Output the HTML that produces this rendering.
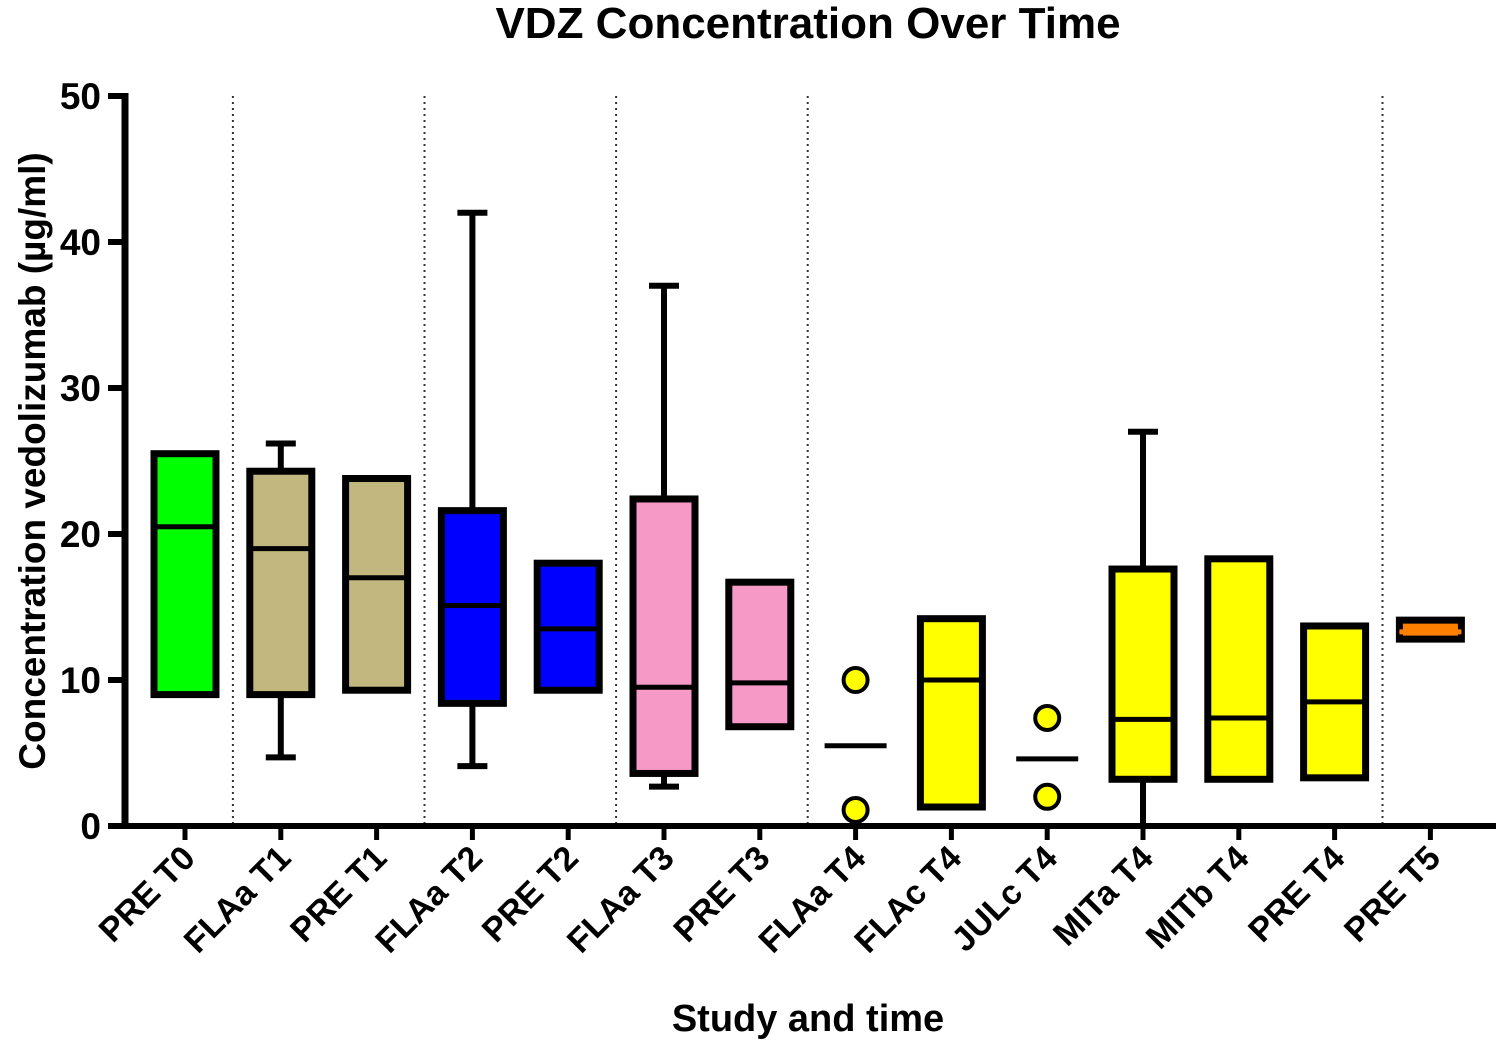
<!DOCTYPE html>
<html><head><meta charset="utf-8"><style>
body{margin:0;background:#fff}
svg{display:block;font-family:"Liberation Sans",Arial,sans-serif;font-weight:bold}
</style></head><body>
<svg id="chart" width="1502" height="1044">
<text x="808" y="38" text-anchor="middle" font-size="44">VDZ Concentration Over Time</text>
<text x="808" y="1031" text-anchor="middle" font-size="38">Study and time</text>
<text transform="translate(45,461) rotate(-90)" text-anchor="middle" font-size="37">Concentration vedolizumab (µg/ml)</text>
<g id="plot"></g>
</svg>
<script>
const categories=["PRE T0","FLAa T1","PRE T1","FLAa T2","PRE T2","FLAa T3","PRE T3","FLAa T4","FLAc T4","JULc T4","MITa T4","MITb T4","PRE T4","PRE T5"];
const q1s=[9,9,9.3,8.4,9.3,3.6,6.8,null,1.3,null,3.2,3.2,3.3,12.8];
const q3s=[25.5,24.3,23.8,21.6,18,22.4,16.7,null,14.2,null,17.6,18.3,13.7,14.1];
const medians=[20.5,19,17,15.1,13.5,9.5,9.8,5.5,10,4.6,7.3,7.4,8.5,13.3];
const mins=[null,4.7,null,4.1,null,2.7,null,null,null,null,0,null,null,null];
const maxs=[null,26.2,null,42,null,37,null,null,null,null,27,null,null,null];
const points=[[],[],[],[],[],[],[],[10,1.1],[],[7.4,2],[],[],[],[]];
const fills=["#00ff00","#c2b77f","#c2b77f","#0000ff","#0000ff","#f799c6","#f799c6","#ffff00","#ffff00","#ffff00","#ffff00","#ffff00","#ffff00","#ff8000"];
const yTicks=[0,10,20,30,40,50];
const separators=[0.5,2.5,4.5,6.5,12.5];
const X0=185,STEP=95.8,Y0=826,PX=14.6,L=125,R=1496;
const xs=i=>X0+i*STEP, ys=v=>Y0-v*PX;
const g=document.getElementById('plot');const NS="http://www.w3.org/2000/svg";
function mk(t,a,name){const e=document.createElementNS(NS,t);for(const k in a)e.setAttribute(k,a[k]);


g.appendChild(e);return e;}
separators.forEach(s=>mk('line',{x1:xs(s),x2:xs(s),y1:ys(50),y2:Y0,stroke:'#333','stroke-width':2,'stroke-dasharray':'2 4'},'separator-line'));
const W=31;
categories.forEach((c,i)=>{const x=xs(i);
 if(mins[i]!==null){mk('line',{x1:x,x2:x,y1:ys(maxs[i]),y2:ys(mins[i]),stroke:'#000','stroke-width':6},'whisker');
  [mins[i],maxs[i]].forEach(v=>{if(v>0)mk('line',{x1:x-15,x2:x+15,y1:ys(v),y2:ys(v),stroke:'#000','stroke-width':6},'whisker-cap');});}
 if(q1s[i]!==null){mk('rect',{x:x-W,y:ys(q3s[i]),width:2*W,height:ys(q1s[i])-ys(q3s[i]),fill:fills[i],stroke:'#000','stroke-width':7},'box-'+c.toLowerCase().replace(' ','-'));}
 mk('line',{x1:x-W,x2:x+W,y1:ys(medians[i]),y2:ys(medians[i]),stroke:i==13?'#ff8000':'#000','stroke-width':5},'median-line');
 points[i].forEach(v=>mk('circle',{cx:x,cy:ys(v),r:12,fill:fills[i],stroke:'#000','stroke-width':4},'data-point'));
 mk('line',{x1:x,x2:x,y1:Y0,y2:Y0+14,stroke:'#000','stroke-width':5},'x-tick');
 const t=mk('text',{transform:`translate(${x+12},${Y0+34}) rotate(-45)`,'text-anchor':'end','font-size':34},'x-tick-label');t.textContent=c;
});
mk('line',{x1:L,x2:L,y1:ys(50)-3,y2:Y0+3,stroke:'#000','stroke-width':7},'y-axis-line');
mk('line',{x1:L-3,x2:R,y1:Y0,y2:Y0,stroke:'#000','stroke-width':6},'x-axis-line');
yTicks.forEach(v=>{mk('line',{x1:L-17,x2:L,y1:ys(v),y2:ys(v),stroke:'#000','stroke-width':6},'y-tick');
 const t=mk('text',{x:L-24,y:ys(v)+13,'text-anchor':'end','font-size':37},'y-tick-label');t.textContent=v;});
</script>
</body></html>
